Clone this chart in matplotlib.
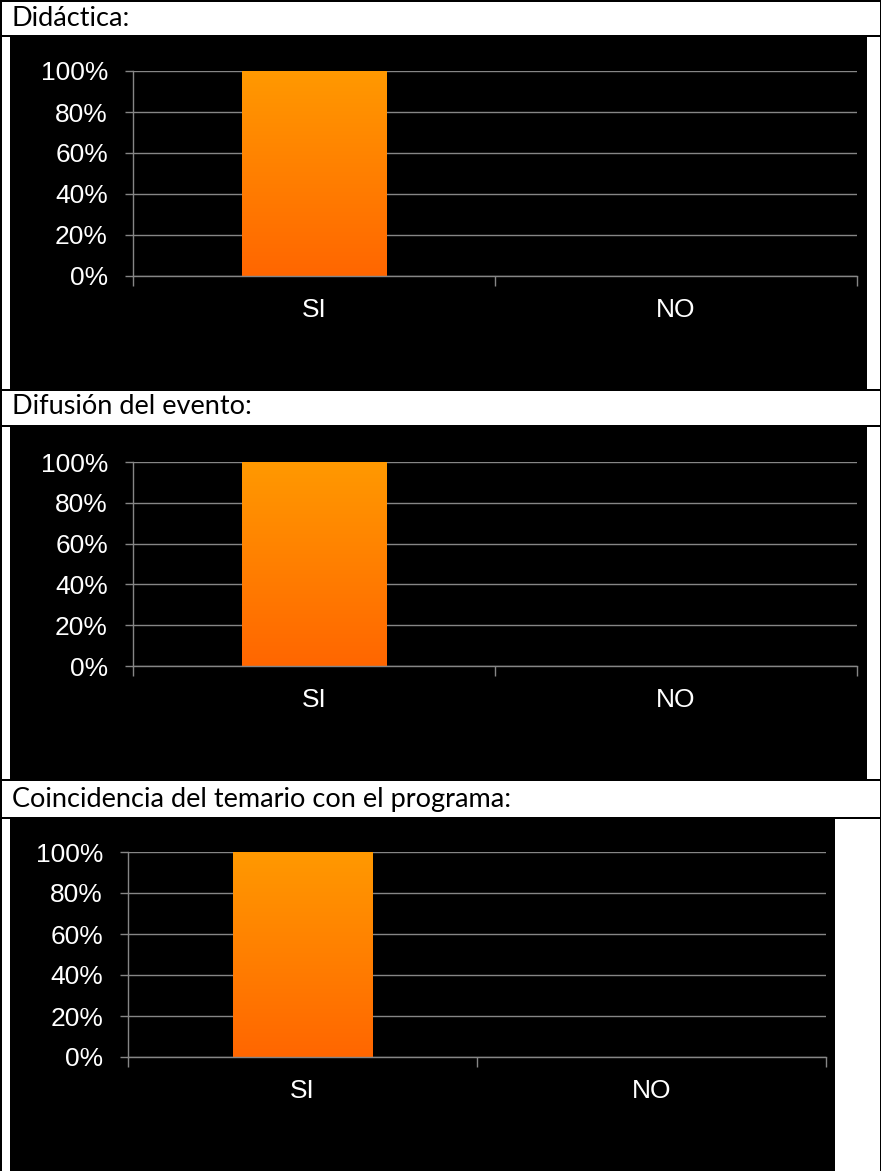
import numpy as np
import matplotlib.pyplot as plt
from matplotlib.patches import Rectangle
from matplotlib.colors import LinearSegmentedColormap
from matplotlib.ticker import FuncFormatter, FixedLocator

titulos = ["Didáctica:", "Difusión del evento:", "Coincidencia del temario con el programa:"]
categorias = ["SI", "NO"]
valores = [
    [1.0, 0.0],
    [1.0, 0.0],
    [1.0, 0.0],
]

W, H = 883, 1171
fig = plt.figure(figsize=(W / 100, H / 100), dpi=100)
fig.patch.set_facecolor("white")


def caja(x0, y0, x1, y1):
    # pixel box (top-left origin) -> figure fraction rect
    return [x0 / W, 1 - y1 / H, (x1 - x0) / W, (y1 - y0) / H]


def rect(x0, y0, x1, y1, color):
    l, b, w, h = caja(x0, y0, x1, y1)
    fig.patches.append(Rectangle((l, b), w, h, transform=fig.transFigure,
                                 facecolor=color, edgecolor="none", zorder=-1))


# table borders
for y in [0, 35, 389, 425, 779, 817]:
    rect(0, y, 881, y + 1.5, "black")
rect(0, 0, 1.5, H, "black")
rect(879.5, 0, 881, H, "black")

# rows: title position, black area, plot area
filas = [
    dict(ty=18, fondo=(10, 36, 867, 389), plot=(133, 71, 857, 276)),
    dict(ty=407, fondo=(10, 426, 867, 779), plot=(133, 462, 857, 666)),
    dict(ty=799, fondo=(10, 819, 835, H), plot=(128, 852, 826, 1057)),
]

naranja = LinearSegmentedColormap.from_list("naranja", ["#ff6600", "#ff9900"])
gris = "#868686"

for titulo, vals, f in zip(titulos, valores, filas):
    fig.text(12 / W, 1 - f["ty"] / H, titulo, fontsize=19.5, family="Lato",
             va="center", ha="left", color="black")
    rect(*f["fondo"], "black")

    ax = fig.add_axes(caja(*f["plot"]), zorder=2)
    ax.patch.set_alpha(0)
    x = np.arange(len(categorias))
    barras = ax.bar(x, vals, width=0.4, color="none", zorder=2)
    for b in barras:
        if b.get_height() <= 0:
            continue
        x0, w, hgt = b.get_x(), b.get_width(), b.get_height()
        grad = np.linspace(0, 1, 256).reshape(-1, 1)
        im = ax.imshow(grad, cmap=naranja, origin="lower", aspect="auto",
                       extent=[x0, x0 + w, 0, hgt], zorder=2)
        im.set_clip_path(b)

    ax.set_xlim(-0.5, len(categorias) - 0.5)
    ax.set_ylim(0, 1)
    ax.set_yticks(np.arange(0, 1.01, 0.2))
    ax.yaxis.set_major_formatter(FuncFormatter(lambda v, p: f"{v:.0%}"))
    ax.grid(axis="y", color=gris, linewidth=1, zorder=1)
    ax.set_xticks(x)
    ax.set_xticklabels(categorias)
    ax.xaxis.set_minor_locator(FixedLocator(np.arange(-0.5, len(categorias), 1)))
    ax.tick_params(axis="x", which="major", length=0, pad=16,
                   labelsize=19, labelcolor="white")
    ax.tick_params(axis="x", which="minor", length=7, color=gris, width=1)
    ax.tick_params(axis="y", length=6, color=gris, width=1, pad=12,
                   labelsize=19, labelcolor="white")
    for lado in ["top", "right"]:
        ax.spines[lado].set_visible(False)
    for lado in ["left", "bottom"]:
        ax.spines[lado].set_color(gris)
        ax.spines[lado].set_linewidth(1)
    for t in ax.get_xticklabels() + ax.get_yticklabels():
        t.set_family("Liberation Sans")

fig.savefig("out.png", dpi=100, facecolor="white")
